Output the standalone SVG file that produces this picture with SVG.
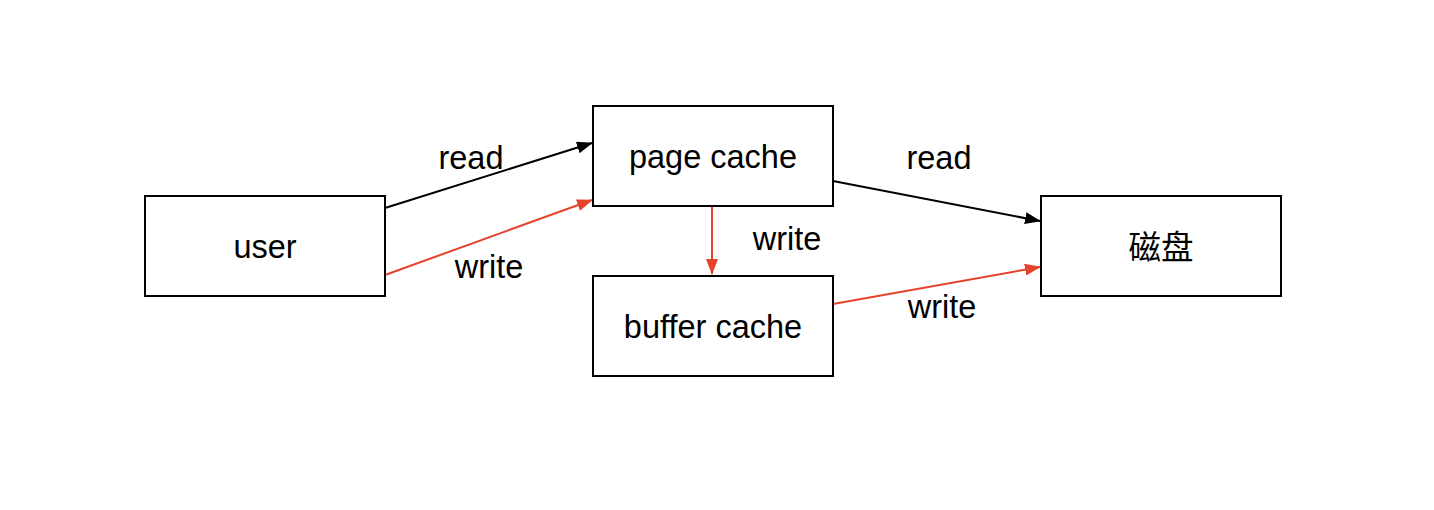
<svg xmlns="http://www.w3.org/2000/svg" width="1434" height="510" viewBox="0 0 1434 510">
<style>
.box{fill:#fff;stroke:#000;stroke-width:2}
.t{font-family:"Liberation Sans","Noto Sans CJK SC",sans-serif;font-size:32.5px;fill:#000;text-anchor:middle}
.k{stroke:#000;stroke-width:2;fill:none}
.r{stroke:#E5432C;stroke-width:2;fill:none}
</style>
<defs>
<marker id="ak" viewBox="0 0 16 12" refX="15" refY="6" markerWidth="16" markerHeight="12" markerUnits="userSpaceOnUse" orient="auto"><path d="M0,0L16,6L0,12z" fill="#000"/></marker>
<marker id="ar" viewBox="0 0 16 12" refX="15" refY="6" markerWidth="16" markerHeight="12" markerUnits="userSpaceOnUse" orient="auto"><path d="M0,0L16,6L0,12z" fill="#E5432C"/></marker>
</defs>
<rect width="1434" height="510" fill="#fff"/>
<g id="connectors">
<line class="k" x1="385" y1="208" x2="592" y2="143" marker-end="url(#ak)"/>
<line class="r" x1="385" y1="275" x2="592" y2="200" marker-end="url(#ar)"/>
<line class="k" x1="833" y1="181" x2="1040" y2="221" marker-end="url(#ak)"/>
<line class="r" x1="712" y1="207" x2="712" y2="274" marker-end="url(#ar)"/>
<line class="r" x1="833" y1="304" x2="1040" y2="267" marker-end="url(#ar)"/>
<text class="t" x="471" y="169">read</text>
<text class="t" x="489" y="278">write</text>
<text class="t" x="939" y="169">read</text>
<text class="t" x="787" y="250">write</text>
<text class="t" x="942" y="318">write</text>
</g>
<g id="user"><rect class="box" x="145" y="196" width="240" height="100"/><text class="t" x="265" y="258">user</text></g>
<g id="page-cache"><rect class="box" x="593" y="106" width="240" height="100"/><text class="t" x="713" y="168">page cache</text></g>
<g id="buffer-cache"><rect class="box" x="593" y="276" width="240" height="100"/><text class="t" x="713" y="338">buffer cache</text></g>
<g id="disk"><rect class="box" x="1041" y="196" width="240" height="100"/><text class="t" x="1161" y="259">磁盘</text></g>
</svg>
